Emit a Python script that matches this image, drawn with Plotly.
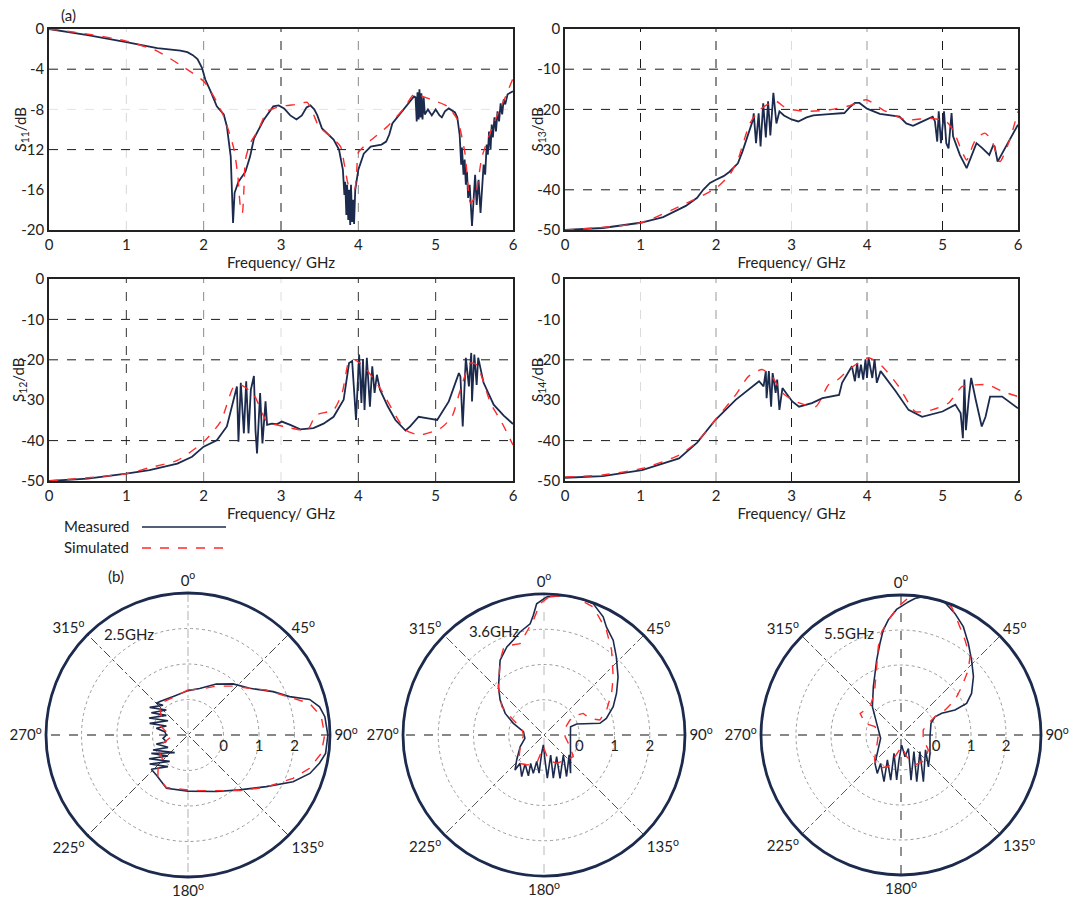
import plotly.graph_objects as go

W, H = 1073, 900
NAVY = "#1c2a4d"
RED = "#ff2a2a"
FONT = "Lato, 'Open Sans', sans-serif"

# ---------------- tick labels ----------------
freq_ticks = [0, 1, 2, 3, 4, 5, 6]
freq_ticktext = ["0", "1", "2", "3", "4", "5", "6"]
s11_ticks = [0, -4, -8, -12, -16, -20]
s11_ticktext = ["0", "-4", "-8", "-12", "-16", "-20"]
s1x_ticks = [0, -10, -20, -30, -40, -50]
s1x_ticktext = ["0", "-10", "-20", "-30", "-40", "-50"]
angle_ticks = [0, 45, 90, 135, 180, 225, 270, 315]
angle_ticktext = ["0<sup>o</sup>", "45<sup>o</sup>", "90<sup>o</sup>", "135<sup>o</sup>",
                  "180<sup>o</sup>", "225<sup>o</sup>", "270<sup>o</sup>", "315<sup>o</sup>"]
gain_ticks = [0, 1, 2]
gain_ticktext = ["0", "1", "2"]

# ---------------- (a) S-parameters: (frequency GHz, dB) ----------------
s11_measured = [
    (0, 0), (0.5, -0.6), (1.0, -1.3), (1.4, -1.9), (1.7, -2.15), (1.79, -2.3), (1.86, -2.6),
    (1.92, -3.0), (1.98, -3.9), (2.02, -5.0), (2.09, -6.2), (2.17, -7.7), (2.26, -8.5),
    (2.3, -9.7), (2.35, -12.7), (2.38, -19.3), (2.40, -16.3), (2.45, -15.2), (2.54, -14.2),
    (2.6, -12.7), (2.65, -10.9), (2.78, -9.0), (2.9, -7.7), (2.97, -7.6), (3.04, -7.9),
    (3.12, -8.6), (3.2, -9.0), (3.27, -8.6), (3.33, -7.8), (3.38, -7.6), (3.43, -8.0),
    (3.47, -8.6), (3.53, -9.9), (3.6, -10.4), (3.68, -11.0), (3.75, -12.0), (3.8, -14.0),
    (3.82, -16.5), (3.83, -15.2), (3.845, -18.5), (3.855, -15.5), (3.87, -19.0), (3.88, -16.0),
    (3.895, -19.5), (3.905, -15.5), (3.92, -19.2), (3.935, -17.0), (3.945, -19.4), (3.96, -16.0),
    (4.0, -14.0), (4.07, -12.4), (4.16, -11.7), (4.3, -11.5), (4.36, -11.2), (4.4, -10.5),
    (4.44, -9.4), (4.59, -8.0), (4.72, -6.7), (4.74, -6.8), (4.755, -9.2), (4.765, -6.3),
    (4.78, -9.0), (4.79, -6.0), (4.805, -8.8), (4.815, -6.4), (4.83, -9.0), (4.845, -6.8),
    (4.86, -8.5), (4.9, -8.0), (4.95, -8.6), (5.0, -8.0), (5.05, -8.6), (5.08, -8.8),
    (5.12, -8.2), (5.17, -7.9), (5.25, -8.3), (5.28, -8.8), (5.31, -10.5), (5.33, -13.5),
    (5.34, -11.8), (5.36, -14.5), (5.375, -13.0), (5.39, -15.5), (5.405, -14.2), (5.42, -16.8),
    (5.44, -15.5), (5.47, -19.6), (5.49, -16.5), (5.51, -14.5), (5.53, -17.5), (5.555, -15.0),
    (5.58, -18.3), (5.60, -15.5), (5.62, -13.5), (5.64, -14.5), (5.66, -11.5), (5.675, -12.5),
    (5.69, -10.2), (5.71, -12.0), (5.725, -9.5), (5.74, -10.8), (5.76, -8.8), (5.78, -10.2),
    (5.80, -8.2), (5.82, -9.2), (5.84, -7.4), (5.86, -8.5), (5.88, -7.0), (5.9, -7.5),
    (5.93, -6.5), (6.0, -6.2),
]
s11_simulated = [
    (0, 0), (0.41, -0.4), (1.0, -1.2), (1.4, -2.2), (1.7, -3.6), (2.0, -5.2), (2.13, -6.7),
    (2.26, -8.7), (2.39, -11.9), (2.44, -14.5), (2.48, -18.0), (2.5, -18.3), (2.52, -16.0),
    (2.54, -13.0), (2.6, -11.4), (2.71, -10.0), (2.82, -8.2), (3.0, -7.7), (3.2, -7.5),
    (3.34, -7.3), (3.42, -8.5), (3.49, -9.7), (3.64, -10.7), (3.77, -11.7), (3.82, -13.5),
    (3.88, -15.7), (3.95, -16.0), (3.98, -14.0), (4.0, -12.3), (4.11, -11.4), (4.39, -9.6),
    (4.6, -7.8), (4.72, -6.5), (4.93, -7.0), (5.15, -7.7), (5.28, -9.0), (5.38, -12.4),
    (5.45, -17.3), (5.51, -16.7), (5.6, -12.7), (5.75, -9.4), (5.9, -6.8), (6.0, -4.9),
]
s13_measured = [
    (0, -50), (0.5, -49.5), (1.0, -48.2), (1.3, -46.8), (1.6, -44.0), (1.75, -42.0),
    (1.83, -40.0), (1.92, -38.3), (2.0, -37.5), (2.1, -36.6), (2.18, -35.5), (2.29, -33.4),
    (2.35, -30.5), (2.4, -27.6), (2.45, -24.5), (2.49, -22.6), (2.50, -21.0), (2.53, -28.4),
    (2.565, -21.0), (2.59, -29.2), (2.625, -18.5), (2.66, -27.0), (2.69, -18.0), (2.72, -26.5),
    (2.76, -15.9), (2.8, -23.5), (2.84, -20.5), (2.9, -21.5), (3.0, -22.5), (3.09, -23.0),
    (3.2, -22.0), (3.29, -21.5), (3.5, -21.2), (3.7, -20.9), (3.77, -19.5), (3.84, -18.4),
    (3.9, -18.4), (4.0, -19.8), (4.17, -21.1), (4.3, -21.4), (4.43, -21.8), (4.52, -23.5),
    (4.61, -24.1), (4.7, -23.3), (4.87, -21.8), (4.9, -23.0), (4.93, -28.0), (4.95, -20.5),
    (4.98, -28.4), (5.02, -20.5), (5.05, -28.4), (5.08, -29.7), (5.1, -24.0), (5.12, -20.9),
    (5.14, -26.7), (5.18, -29.0), (5.23, -31.3), (5.32, -34.6), (5.38, -31.5), (5.45, -28.4),
    (5.52, -29.5), (5.62, -31.3), (5.67, -29.0), (5.69, -29.2), (5.73, -33.0), (5.85, -29.0),
    (6.0, -23.8),
]
s13_simulated = [
    (0, -50), (1.0, -48.2), (1.6, -43.4), (2.0, -39.6), (2.18, -36.3), (2.3, -32.0),
    (2.36, -28.4), (2.45, -23.4), (2.58, -20.1), (2.7, -18.6), (2.8, -18.0), (2.9, -19.3),
    (3.02, -20.1), (3.2, -20.5), (3.5, -20.1), (3.77, -19.1), (3.99, -17.6), (4.21, -20.1),
    (4.52, -22.6), (4.83, -22.2), (5.05, -23.0), (5.15, -25.5), (5.23, -29.2), (5.32, -32.6),
    (5.4, -29.0), (5.45, -27.2), (5.56, -25.9), (5.65, -27.6), (5.76, -33.0), (5.89, -27.6),
    (6.0, -20.5),
]
s12_measured = [
    (0, -50), (0.5, -49.4), (1.0, -48.2), (1.3, -47.3), (1.66, -45.7), (1.85, -44.0),
    (2.0, -41.5), (2.17, -39.9), (2.3, -36.5), (2.39, -29.9), (2.43, -26.6), (2.45, -40.3),
    (2.48, -25.7), (2.52, -38.2), (2.55, -25.3), (2.58, -38.2), (2.61, -27.4), (2.65, -24.0),
    (2.67, -37.4), (2.69, -43.2), (2.73, -28.2), (2.76, -40.7), (2.8, -30.3), (2.82, -36.1),
    (2.88, -35.8), (2.95, -35.9), (3.01, -35.3), (3.12, -36.1), (3.25, -37.2), (3.42, -36.9),
    (3.55, -35.8), (3.68, -34.1), (3.81, -29.9), (3.88, -20.8), (3.92, -20.3), (3.97, -34.9),
    (4.01, -18.7), (4.04, -30.7), (4.06, -19.8), (4.08, -32.4), (4.11, -19.5), (4.15, -31.6),
    (4.18, -21.6), (4.21, -28.2), (4.24, -23.7), (4.28, -27.4), (4.38, -31.5), (4.48, -34.9),
    (4.61, -37.5), (4.67, -36.5), (4.78, -34.1), (4.9, -34.5), (5.02, -34.9), (5.17, -30.3),
    (5.3, -23.3), (5.32, -24.1), (5.35, -36.5), (5.39, -19.5), (5.43, -26.6), (5.46, -18.3),
    (5.47, -30.3), (5.5, -18.7), (5.53, -26.2), (5.55, -19.5), (5.62, -25.7), (5.75, -31.1),
    (5.88, -33.8), (6.0, -35.9),
]
s12_simulated = [
    (0, -50), (1.0, -48.2), (1.3, -46.7), (1.66, -44.9), (2.0, -40.3), (2.22, -35.3),
    (2.39, -26.6), (2.48, -26.2), (2.65, -28.7), (2.82, -35.3), (3.04, -36.5), (3.34, -37.4),
    (3.45, -33.7), (3.68, -32.4), (3.79, -28.2), (3.88, -20.3), (3.94, -19.9), (4.07, -21.6),
    (4.28, -27.0), (4.61, -37.4), (4.8, -38.6), (5.06, -37.0), (5.21, -34.1), (5.32, -27.4),
    (5.45, -20.8), (5.53, -21.2), (5.71, -30.7), (5.86, -35.7), (6.0, -41.1),
]
s14_measured = [
    (0, -49.2), (0.5, -48.8), (1.02, -47.3), (1.51, -44.4), (1.75, -40.5), (1.99, -34.9),
    (2.26, -29.9), (2.45, -27.0), (2.57, -25.3), (2.63, -26.6), (2.66, -22.8), (2.67, -29.5),
    (2.70, -22.8), (2.73, -31.6), (2.75, -23.3), (2.79, -28.2), (2.81, -24.9), (2.84, -32.4),
    (2.88, -27.0), (3.01, -30.3), (3.1, -31.6), (3.27, -30.7), (3.41, -29.5), (3.63, -28.7),
    (3.67, -25.7), (3.8, -21.6), (3.84, -25.3), (3.87, -20.8), (3.89, -24.5), (3.92, -21.2),
    (3.95, -24.9), (3.98, -19.9), (4.0, -24.5), (4.02, -19.5), (4.07, -24.5), (4.1, -19.9),
    (4.13, -25.7), (4.18, -22.8), (4.38, -27.8), (4.55, -32.4), (4.73, -34.1), (5.0, -32.8),
    (5.17, -31.1), (5.24, -33.2), (5.27, -39.4), (5.29, -24.9), (5.31, -37.4), (5.35, -29.1),
    (5.38, -24.5), (5.44, -29.9), (5.52, -36.5), (5.57, -34.1), (5.63, -29.1), (5.79, -29.1),
    (6.0, -32.0),
]
s14_simulated = [
    (0, -49.0), (0.5, -48.5), (1.02, -46.9), (1.51, -43.6), (1.75, -40.3), (1.99, -34.9),
    (2.26, -28.7), (2.43, -24.1), (2.61, -22.4), (2.74, -24.1), (2.88, -28.2), (3.05, -30.3),
    (3.32, -31.6), (3.49, -26.2), (3.62, -24.8), (3.76, -22.4), (4.02, -19.5), (4.2, -21.6),
    (4.42, -26.6), (4.64, -32.8), (4.86, -32.4), (5.08, -30.7), (5.26, -26.6), (5.44, -26.2),
    (5.61, -26.2), (5.79, -27.8), (6.0, -29.1),
]

# ---------------- (b) radiation patterns: (angle deg, gain) ----------------
p25_measured = [
    (0, 0.25), (14, 0.35), (29, 0.64), (41.4, 0.92), (52.9, 1.18), (63, 1.69), (69.3, 2.06),
    (73.7, 2.57), (77.9, 2.79), (82.4, 2.89), (90, 2.94), (97.6, 2.91), (102, 2.79),
    (107.5, 2.6), (114, 2.24), (123.4, 1.64), (136.8, 1.12), (153.4, 0.78), (180, 0.58),
    (202, 0.62), (218, 0.44), (226.9, 0.415), (212.3, 0.055), (232.9, 0.354), (214.8, -0.096),
    (238.7, 0.285), (223.6, -0.183), (243.4, 0.155), (217, -0.377), (246.8, 0.072),
    (238.3, -0.338), (254.1, -0.072), (252.9, -0.36), (262.4, -0.29), (270, -0.39),
    (278.1, -0.336), (281.9, -0.088), (292.6, -0.34), (286.9, 0.129), (305.6, -0.307),
    (293.6, 0.198), (312.2, -0.176), (301.3, 0.209), (319.1, -0.068), (305.8, 0.332),
    (319.9, 0.093), (315, 0.262), (320, 0.23), (339, 0.16), (360, 0.25),
]
p25_simulated = [
    (0, 0.27), (14.3, 0.33), (30, 0.59), (42.6, 0.87), (52.9, 1.18), (60.1, 1.54),
    (70.7, 2.13), (75.4, 2.54), (82.2, 2.79), (90, 2.85), (97.8, 2.79), (105.3, 2.55),
    (112.4, 2.2), (123.7, 1.65), (137.1, 1.14), (168.2, 0.6), (180, 0.55), (202.4, 0.6),
    (215.8, 0.45), (222, 0.26), (225, 0.0), (240.1, -0.06), (251.6, -0.26), (264.3, -0.53),
    (278.7, -0.38), (289.4, -0.15), (304.5, -0.09), (313.3, 0.1), (318.9, 0.18),
    (338.3, 0.14), (360, 0.27),
]
p36_measured = [
    (1.1, 2.92), (8.5, 3.0), (14.6, 3.0), (20.5, 2.98), (26.6, 2.75), (30, 2.54), (36.1, 2.33),
    (42.8, 2.02), (51.9, 1.67), (60.2, 1.37), (67.8, 1.12), (75.1, 0.83), (78.2, 0.62),
    (71.4, -0.02), (72.6, -0.21), (90, -0.25), (129.1, -0.03), (145.2, 0.32), (128.3, -0.09),
    (151.5, 0.34), (136, -0.21), (159.7, 0.31), (149.7, -0.29), (167.8, 0.25), (161.6, -0.4),
    (175.6, 0.23), (177.7, -0.29), (183.8, -0.72), (187.3, -0.48), (187.4, 0.09),
    (195.4, -0.22), (195.6, 0.13), (205.2, -0.11), (200.9, 0.24), (213.2, -0.02),
    (208.2, 0.34), (220.3, 0.05), (219.6, 0.29), (227.6, 0.05), (244, -0.25), (260, -0.45),
    (279.2, -0.41), (290.8, -0.07), (299.1, 0.26), (308.5, 0.59), (316.6, 0.88),
    (329.6, 1.46), (337.1, 1.71), (342.1, 1.83), (346.9, 2.0), (352.9, 2.18), (354.9, 2.41),
    (356.8, 2.73), (361.1, 2.92),
]
p36_simulated = [
    (2.5, 2.94), (8.5, 2.99), (13.3, 3.0), (21, 2.89), (30.8, 2.46), (38.5, 2.08),
    (50.1, 1.56), (58.4, 1.25), (68.3, 0.91), (75, 0.64), (70.1, 0.38), (61.2, 0.27),
    (58.5, 0.08), (60, -0.15), (72.4, -0.38), (94.5, -0.4), (114.2, -0.19), (126.4, 0.03),
    (137.8, -0.05), (155.9, -0.12), (170.2, -0.28), (183, -0.67), (194.5, -0.17),
    (210, -0.02), (222.2, 0.08), (244, -0.25), (270, -0.42), (286.6, -0.34), (296.1, -0.03),
    (303.8, 0.44), (316.6, 0.88), (329.6, 1.46), (334.9, 1.71), (340.2, 1.71),
    (345.3, 1.68), (350.5, 1.97), (354.7, 2.27), (358.3, 2.73), (362.5, 2.94),
]
p55_measured = [
    (2.5, 2.78), (5.8, 2.92), (8.5, 2.99), (13.9, 3.0), (18.3, 2.99), (23.9, 2.8),
    (29.9, 2.57), (36.3, 2.25), (43.3, 1.94), (51.1, 1.66), (59.5, 1.34), (64.3, 1.08),
    (65.2, 0.7), (61.9, 0.32), (61.7, 0.1), (68.7, -0.08), (93.3, -0.17), (122.3, -0.02),
    (139.2, 0.2), (121.3, -0.18), (154.4, 0.48), (131.3, -0.28), (161.4, 0.41), (142, -0.4),
    (167.5, 0.32), (151.2, -0.56), (169.5, -0.37), (176.2, -0.71), (184.6, -0.28),
    (185.5, 0.29), (200.9, -0.44), (192.9, 0.32), (208.7, -0.19), (200, 0.42), (215.7, 0.0),
    (211.7, 0.29), (222.5, 0.1), (239.5, -0.25), (260.7, -0.41), (295.6, -0.23),
    (314.7, 0.15), (330.2, 0.59), (342, 1.25), (347.1, 1.69), (350.4, 2.04), (353.7, 2.31),
    (358, 2.59), (362.5, 2.78),
]
p55_simulated = [
    (5.8, 2.99), (11, 3.0), (16.5, 3.0), (21.5, 2.94), (27.2, 2.59), (34, 2.27), (41.4, 1.98),
    (46, 1.67), (51.5, 1.22), (57, 0.84), (60.4, 0.45), (61.7, 0.1), (66.9, -0.15),
    (77.4, -0.35), (98.5, -0.36), (118.8, -0.11), (136.2, -0.01), (155, -0.05),
    (165.3, -0.36), (177, -0.67), (195.5, -0.36), (201.8, -0.03), (214.2, 0.15),
    (226.8, 0.04), (244.4, -0.23), (270, -0.35), (287.8, -0.22), (288, 0.08), (297.9, 0.32),
    (312.4, 0.2), (327.4, 0.41), (340.4, 1.07), (345.6, 1.61), (349.4, 2.0), (353.7, 2.3),
    (358.8, 2.67), (362.4, 2.88), (365.8, 2.99),
]
pattern_labels = ["2.5GHz", "3.6GHz", "5.5GHz"]


def unzip(pairs):
    return [p[0] for p in pairs], [p[1] for p in pairs]


def text_at(px, py, text, **kw):
    d = dict(x=px / W, y=1 - py / H, xref="paper", yref="paper", text=text,
             showarrow=False, xanchor="center", yanchor="middle",
             font=dict(size=15, color="#222"))
    d.update(kw)
    return d


fig = go.Figure()

# ---------------- cartesian panels ----------------
panels = [
    dict(ytitle="S<sub>11</sub>/dB", meas=s11_measured, sim=s11_simulated,
         xpx=(49, 513), ypx=(29, 230), yr=[-20, 0], tv=s11_ticks, tt=s11_ticktext, tx=20,
         vgrid=[(1, "#d8d8d8"), (2, "#8a8a8a"), (3, "#1a1a1a"), (4, "#8a8a8a")],
         hgrid=[(-4, "#1a1a1a"), (-8, "#e4e4e4"), (-12, "#1a1a1a")]),
    dict(ytitle="S<sub>13</sub>/dB", meas=s13_measured, sim=s13_simulated,
         xpx=(565, 1018), ypx=(29, 230), yr=[-50, 0], tv=s1x_ticks, tt=s1x_ticktext, tx=537,
         vgrid=[(1, "#1a1a1a"), (2, "#1a1a1a"), (3, "#dcdcdc"), (4, "#9a9a9a"), (5, "#1a1a1a")],
         hgrid=[(-10, "#1a1a1a"), (-20, "#1a1a1a"), (-40, "#1a1a1a")]),
    dict(ytitle="S<sub>12</sub>/dB", meas=s12_measured, sim=s12_simulated,
         xpx=(49, 513), ypx=(279, 481), yr=[-50, 0], tv=s1x_ticks, tt=s1x_ticktext, tx=19,
         vgrid=[(1, "#333333"), (2, "#8a8a8a"), (3, "#dcdcdc"), (4, "#333333"), (5, "#333333")],
         hgrid=[(-10, "#1a1a1a"), (-20, "#1a1a1a"), (-40, "#1a1a1a")]),
    dict(ytitle="S<sub>14</sub>/dB", meas=s14_measured, sim=s14_simulated,
         xpx=(565, 1018), ypx=(279, 481), yr=[-50, 0], tv=s1x_ticks, tt=s1x_ticktext, tx=538,
         vgrid=[(1, "#dcdcdc"), (2, "#9a9a9a"), (3, "#1a1a1a"), (4, "#7a7a7a")],
         hgrid=[(-20, "#1a1a1a"), (-40, "#1a1a1a")]),
]

shapes = []
annotations = []
for i, p in enumerate(panels, start=1):
    sfx = "" if i == 1 else str(i)
    xa, ya = "x" + sfx, "y" + sfx
    fx, fy = unzip(p["meas"])
    fig.add_trace(go.Scatter(x=fx, y=fy, xaxis=xa, yaxis=ya, mode="lines",
                             line=dict(color=NAVY, width=1.8), showlegend=False, hoverinfo="skip"))
    sx, sy = unzip(p["sim"])
    fig.add_trace(go.Scatter(x=sx, y=sy, xaxis=xa, yaxis=ya, mode="lines",
                             line=dict(color=RED, width=1.4, dash="dash", shape="spline",
                                       smoothing=0.6),
                             showlegend=False, hoverinfo="skip"))
    fig.layout["xaxis" + sfx] = dict(
        domain=[p["xpx"][0] / W, p["xpx"][1] / W], range=[0, 6], anchor=ya,
        tickvals=freq_ticks, ticktext=freq_ticktext, showline=True, mirror=True,
        linecolor="#222222", linewidth=1.5, showgrid=False, zeroline=False, ticks="",
        tickfont=dict(size=15, color="#222"),
        title=dict(text="Frequency/ GHz", font=dict(size=15, color="#222"), standoff=0))
    fig.layout["yaxis" + sfx] = dict(
        domain=[1 - p["ypx"][1] / H, 1 - p["ypx"][0] / H], range=p["yr"], anchor=xa,
        tickvals=p["tv"], ticktext=p["tt"], showline=True, mirror=True,
        linecolor="#222222", linewidth=1.5, showgrid=False, zeroline=False, ticks="",
        tickfont=dict(size=15, color="#222"))
    annotations.append(text_at(p["tx"], (p["ypx"][0] + p["ypx"][1]) / 2, p["ytitle"],
                               textangle=-90))
    for g, c in p["vgrid"]:
        shapes.append(dict(type="line", xref=xa, yref=ya + " domain", x0=g, x1=g, y0=0, y1=1,
                           line=dict(color=c, width=1, dash="dash"), layer="below"))
    for g, c in p["hgrid"]:
        shapes.append(dict(type="line", xref=xa + " domain", yref=ya, x0=0, x1=1, y0=g, y1=g,
                           line=dict(color=c, width=1, dash="dash"), layer="below"))

# ---------------- polar panels ----------------
polars = [
    dict(meas=p25_measured, sim=p25_simulated, c=(188, 735), rad=142,
         spokes=[("#b0b0b0", "dashdot"), ("#444444", "dashdot"), ("#111111", "dash"), ("#444444", "dashdot")],
         label=(129, 634)),
    dict(meas=p36_measured, sim=p36_simulated, c=(544, 735), rad=141,
         spokes=[("#b8b8b8", "dash"), ("#555555", "dashdot"), ("#111111", "dash"), ("#555555", "dashdot")],
         label=(494, 631)),
    dict(meas=p55_measured, sim=p55_simulated, c=(901, 735), rad=140,
         spokes=[("#222222", "dash"), ("#555555", "dashdot"), ("#111111", "dash"), ("#555555", "dashdot")],
         label=(849, 633)),
]
spoke_angles = [0, 45, 90, 135]
for i, p in enumerate(polars, start=1):
    sfx = "" if i == 1 else str(i)
    sub = "polar" + sfx
    for ang, (col, dsh) in zip(spoke_angles, p["spokes"]):
        fig.add_trace(go.Scatterpolar(r=[3, -1, 3], theta=[ang, ang, ang + 180], subplot=sub,
                                      mode="lines", line=dict(color=col, width=1, dash=dsh),
                                      showlegend=False, hoverinfo="skip"))
    th, rr = unzip(p["meas"])
    fig.add_trace(go.Scatterpolar(r=rr, theta=th, subplot=sub, mode="lines",
                                  line=dict(color=NAVY, width=1.6), showlegend=False, hoverinfo="skip"))
    th, rr = unzip(p["sim"])
    fig.add_trace(go.Scatterpolar(r=rr, theta=th, subplot=sub, mode="lines",
                                  line=dict(color=RED, width=1.4, dash="dash"), showlegend=False,
                                  hoverinfo="skip"))
    cx, cy = p["c"]
    rad = p["rad"]
    fig.layout[sub] = dict(
        domain=dict(x=[(cx - rad) / W, (cx + rad) / W], y=[1 - (cy + rad) / H, 1 - (cy - rad) / H]),
        bgcolor="white",
        angularaxis=dict(rotation=90, direction="clockwise", tickvals=angle_ticks,
                         ticktext=angle_ticktext, showgrid=False, showline=True,
                         linecolor=NAVY, linewidth=2.8, ticks="",
                         tickfont=dict(size=15, color="#222")),
        radialaxis=dict(range=[-1, 3], tickvals=gain_ticks, ticktext=gain_ticktext,
                        showgrid=True, gridcolor="#9a9a9a", griddash="dot", gridwidth=1,
                        showline=False, ticks="", angle=0, side="clockwise",
                        tickfont=dict(size=15, color="#222")),
    )
    lx, ly = p["label"]
    annotations.append(text_at(lx, ly, pattern_labels[i - 1]))

# ---------------- panel labels & legend ----------------
annotations.append(text_at(68, 15, "(a)"))
annotations.append(text_at(116, 576, "(b)"))
legend_items = [("Measured", NAVY, "solid", 526), ("Simulated", RED, "dash", 547)]
for name, col, dsh, yy in legend_items:
    annotations.append(text_at(62, yy, name, xanchor="left"))
    shapes.append(dict(type="line", xref="paper", yref="paper", x0=142 / W, x1=226 / W,
                       y0=1 - (yy + 1) / H, y1=1 - (yy + 1) / H,
                       line=dict(color=col, width=1.5, dash=dsh)))

fig.update_layout(
    width=W, height=H, margin=dict(l=0, r=0, t=0, b=0, autoexpand=False),
    paper_bgcolor="white", plot_bgcolor="white",
    font=dict(family=FONT, size=15, color="#222"),
    shapes=shapes, annotations=annotations, showlegend=False,
)

fig.write_html("out.html", config={"displayModeBar": False})
